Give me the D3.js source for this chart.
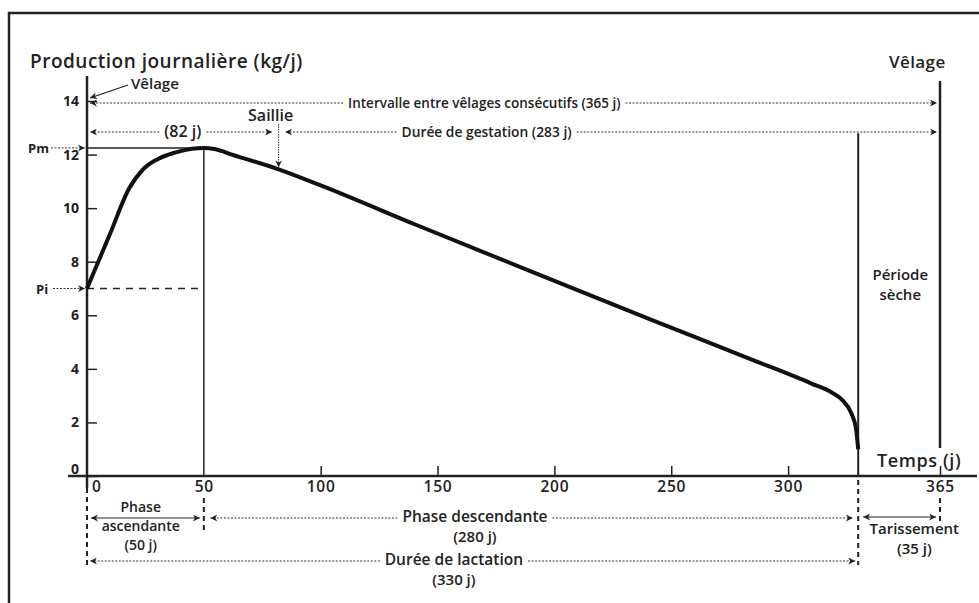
<!DOCTYPE html>
<meta charset="utf-8">
<head>
<style>
  body { margin: 0; background: #fff; }
  svg { display: block; }
  text { font-family: "Open Sans", sans-serif; font-weight: 600; fill: #222; }
  .axis text { font-size: 14px; font-weight: 700; }
  .axis path, .axis line { stroke: #222; }
  .dot { stroke: #333; stroke-width: 1; stroke-dasharray: 2,1.5; fill: none; }
  .dash { stroke: #222; stroke-width: 2; stroke-dasharray: 5,4; fill: none; }
  .big { font-size: 15px; }
</style>
</head>
<body>
<svg id="chart"></svg>
<script src="https://cdnjs.cloudflare.com/ajax/libs/d3/7.8.5/d3.min.js"></script>
<script>

// lactation curve (day, kg/j)
var days       = [0, 10, 18, 24, 30, 38, 45, 50, 55, 62, 82, 100, 141, 191, 241, 285, 310, 319, 323, 327, 329, 330];
var production = [7.0, 9.07, 10.73, 11.45, 11.82, 12.08, 12.22, 12.25, 12.2, 12.0, 11.45, 10.85, 9.37, 7.6, 5.85, 4.33, 3.45, 3.1, 2.85, 2.35, 1.8, 1.0];

var yTicks = [0, 2, 4, 6, 8, 10, 12, 14];
var xTicks = [0, 50, 100, 150, 200, 250, 300, 365];

// key events (days)
var dayPeak = 50, daySaillie = 82, dayTarissement = 330, dayVelage = 365;
var pi = 7.0, pm = 12.25;

var width = 979, height = 603;

var x = d3.scaleLinear().domain([0, 365]).range([87, 940]);
var y = d3.scaleLinear().domain([0, 14]).range([476, 101]);

var svg = d3.select("#chart").attr("width", width).attr("height", height);

// arrow heads
var defs = svg.append("defs");
defs.append("marker")
    .attr("id", "head")
    .attr("viewBox", "0 0 10 10")
    .attr("refX", 10).attr("refY", 5)
    .attr("markerWidth", 8).attr("markerHeight", 7)
    .attr("markerUnits", "userSpaceOnUse")
    .attr("orient", "auto-start-reverse")
  .append("path")
    .attr("d", "M0,0 L10,5 L0,10 L3,5 z")
    .attr("fill", "#222");

// frame of the scanned page
svg.append("path")
    .attr("d", "M9,603 V13 H979")
    .attr("fill", "none")
    .attr("stroke", "#222")
    .attr("stroke-width", 2.5);

// axes
var yAxis = svg.append("g")
    .attr("class", "axis")
    .attr("transform", "translate(" + x(0) + ",0)")
    .call(d3.axisLeft(y).tickValues(yTicks).tickSizeInner(-10).tickSizeOuter(0).tickPadding(8)
      .tickFormat(function(d) { return d; }));
yAxis.select(".domain").remove();
yAxis.selectAll("line").attr("stroke-width", 1.5);
yAxis.selectAll(".tick").filter(function(d) { return d === 0; }).select("text").attr("dy", "-0.2em");

svg.append("line")
    .attr("x1", x(0)).attr("x2", x(0))
    .attr("y1", 76).attr("y2", 488)
    .attr("stroke", "#222").attr("stroke-width", 2.5);

var xAxis = svg.append("g")
    .attr("class", "axis")
    .attr("transform", "translate(0," + y(0) + ")")
    .call(d3.axisBottom(x).tickValues(xTicks).tickSizeInner(-10).tickSizeOuter(0).tickPadding(5));
xAxis.select(".domain").remove();
xAxis.selectAll("line").attr("stroke-width", 1.5)
    .filter(function(d) { return d === 0 || d === 50; }).remove();
xAxis.selectAll(".tick").filter(function(d) { return d === 0; }).select("text").attr("dx", "0.6em");
xAxis.selectAll("text").style("font-weight", 600).style("font-size", "15.5px").style("letter-spacing", "0.8px");

svg.append("line")
    .attr("x1", 68).attr("x2", 977)
    .attr("y1", y(0)).attr("y2", y(0))
    .attr("stroke", "#222").attr("stroke-width", 2.5);

// titles
svg.append("text").attr("x", 30).attr("y", 68).style("font-size", "19px").style("letter-spacing", "0.5px")
    .text("Production journalière (kg/j)");
svg.append("text").attr("x", 889).attr("y", 68).style("font-size", "17px").style("letter-spacing", "0.4px")
    .text("Vêlage");
svg.append("text").attr("x", 877).attr("y", 467).style("font-size", "18px").style("letter-spacing", "0.6px")
    .text("Temps (j)");

// Vêlage pointer at the origin
svg.append("text").attr("x", 131).attr("y", 89).style("font-size", "15px").text("Vêlage");
svg.append("line").attr("x1", 128).attr("y1", 85).attr("x2", x(0) + 3).attr("y2", y(14) - 3)
    .attr("stroke", "#222").attr("stroke-width", 1.2).attr("marker-end", "url(#head)");

// Pm / Pi markers
svg.append("text").attr("x", 28).attr("y", y(pm) + 5).style("font-size", "13px").style("font-weight", 700).text("Pm");
svg.append("line").attr("x1", 51).attr("x2", x(0) - 2).attr("y1", y(pm)).attr("y2", y(pm))
    .attr("class", "dot").attr("marker-end", "url(#head)");
svg.append("text").attr("x", 36).attr("y", y(pi) + 5).style("font-size", "13px").style("font-weight", 700).text("Pi");
svg.append("line").attr("x1", 53).attr("x2", x(0) - 2).attr("y1", y(pi)).attr("y2", y(pi))
    .attr("class", "dot").attr("marker-end", "url(#head)");

svg.append("line").attr("x1", x(0)).attr("x2", x(53)).attr("y1", y(pm)).attr("y2", y(pm))
    .attr("stroke", "#222").attr("stroke-width", 1.5);
svg.append("line").attr("x1", x(0)).attr("x2", x(dayPeak)).attr("y1", y(pi)).attr("y2", y(pi))
    .attr("stroke", "#222").attr("stroke-width", 1.5).attr("stroke-dasharray", "7,6");

// vertical markers
svg.append("line").attr("x1", x(dayPeak)).attr("x2", x(dayPeak)).attr("y1", y(pm)).attr("y2", y(0))
    .attr("stroke", "#222").attr("stroke-width", 1.5);
svg.append("line").attr("x1", x(dayTarissement)).attr("x2", x(dayTarissement)).attr("y1", y(12.8)).attr("y2", y(0))
    .attr("stroke", "#222").attr("stroke-width", 2);
svg.append("line").attr("x1", x(dayVelage)).attr("x2", x(dayVelage)).attr("y1", 81).attr("y2", 448)
    .attr("stroke", "#222").attr("stroke-width", 2.5);

// dashed drops below the time axis
[[0, 488, 565], [dayPeak, 498, 530], [dayTarissement, 480, 565], [dayVelage, 498, 522]].forEach(function(d) {
  svg.append("line").attr("class", "dash")
      .attr("x1", x(d[0])).attr("x2", x(d[0]))
      .attr("y1", d[1]).attr("y2", d[2]);
});

// lactation curve
var line = d3.line()
    .x(function(d, i) { return x(days[i]); })
    .y(function(d) { return y(d); })
    .curve(d3.curveMonotoneX);

svg.append("path")
    .datum(production)
    .attr("d", line)
    .attr("fill", "none")
    .attr("stroke", "#111")
    .attr("stroke-width", 4)
    .attr("stroke-linecap", "butt");

// span with a label in the middle and arrows at both ends
function span(d1, d2, yy, label, dc, size, cls) {
  var x1 = x(d1), x2 = x(d2), cx = x(dc);
  var t = svg.append("text").attr("x", cx).attr("y", yy + 5)
      .attr("text-anchor", "middle").style("font-size", size + "px").text(label);
  var w = t.node().getComputedTextLength();
  var a = cx - w / 2 - 5, b = cx + w / 2 + 5;
  svg.append("line").attr("class", cls).attr("x1", a).attr("x2", x1 + 3).attr("y1", yy).attr("y2", yy)
      .attr("marker-end", "url(#head)");
  svg.append("line").attr("class", cls).attr("x1", b).attr("x2", x2 - 3).attr("y1", yy).attr("y2", yy)
      .attr("marker-end", "url(#head)");
  return t;
}

span(0, dayVelage, 103, "Intervalle entre vêlages consécutifs (365 j)", 170, 13.5, "dot");
span(0, daySaillie - 1.5, 132, "(82 j)", 41, 16, "dot");
span(daySaillie + 1.5, dayVelage, 132, "Durée de gestation (283 j)", 171, 13.8, "dot");

// saillie
svg.append("text").attr("x", x(daySaillie) - 8).attr("y", 121).attr("text-anchor", "middle")
    .style("font-size", "16px").text("Saillie");
svg.append("line").attr("class", "dot").style("stroke-dasharray", "1.5,1")
    .attr("x1", x(daySaillie)).attr("x2", x(daySaillie)).attr("y1", 124).attr("y2", y(11.45) - 2)
    .attr("marker-end", "url(#head)");

// phases under the axis
span(dayPeak + 1.5, dayTarissement - 1, 518, "Phase descendante", 166, 15.5, "dot").attr("y", 522);
svg.append("text").attr("class", "big").attr("x", x(166)).attr("y", 542).attr("text-anchor", "middle")
    .text("(280 j)");

span(0, dayTarissement, 561, "Durée de lactation", 157, 15.5, "dot").attr("y", 565);
svg.append("text").attr("class", "big").attr("x", x(157)).attr("y", 585).attr("text-anchor", "middle")
    .text("(330 j)");

// phase ascendante: solid arrow between the two labels
svg.append("line").attr("x1", x(0) + 4).attr("x2", x(dayPeak) - 4).attr("y1", 518).attr("y2", 518)
    .attr("stroke", "#222").attr("stroke-width", 1)
    .attr("marker-start", "url(#head)").attr("marker-end", "url(#head)");
[["Phase", 512], ["ascendante", 531], ["(50 j)", 550]].forEach(function(d) {
  svg.append("text").attr("x", x(23)).attr("y", d[1]).attr("text-anchor", "middle")
      .style("font-size", "14px").text(d[0]);
});

// tarissement
svg.append("line").attr("x1", x(dayTarissement) + 5).attr("x2", x(dayVelage) - 4).attr("y1", 517).attr("y2", 517)
    .attr("stroke", "#222").attr("stroke-width", 1)
    .attr("marker-start", "url(#head)").attr("marker-end", "url(#head)");
[["Tarissement", 534], ["(35 j)", 554]].forEach(function(d) {
  svg.append("text").attr("class", "big").attr("x", x(354)).attr("y", d[1]).attr("text-anchor", "middle")
      .text(d[0]);
});

// période sèche
[["Période", 280], ["sèche", 300]].forEach(function(d) {
  svg.append("text").attr("x", x(348)).attr("y", d[1]).attr("text-anchor", "middle")
      .style("font-size", "15px").text(d[0]);
});

</script>
</body>
